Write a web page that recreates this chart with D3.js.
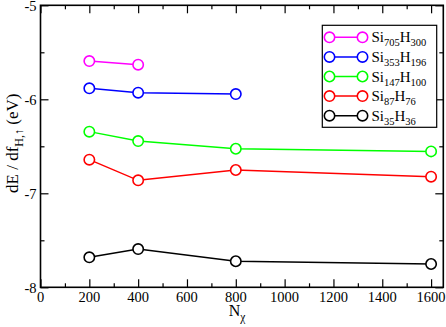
<!DOCTYPE html>
<html><head><meta charset="utf-8">
<script src="https://cdn.jsdelivr.net/npm/d3@7/dist/d3.min.js"></script>
<style>body{margin:0;background:#fff}svg{display:block}text{font-family:"Liberation Serif","DejaVu Serif",serif}</style>
</head><body>
<script>
const nchi = [200, 400, 800, 1600];
const si705h300 = [-5.593, -5.632];
const si353h196 = [-5.883, -5.930, -5.944];
const si147h100 = [-6.344, -6.444, -6.526, -6.554];
const si87h76 = [-6.642, -6.862, -6.752, -6.823];
const si35h36 = [-7.681, -7.593, -7.723, -7.752];
const seriesNames = [["Si","705","H","300"],["Si","353","H","196"],["Si","147","H","100"],["Si","87","H","76"],["Si","35","H","36"]];
const seriesColors = ["#ff00ff","#0000ff","#00ff00","#ff0000","#000000"];
const seriesValues = [si705h300, si353h196, si147h100, si87h76, si35h36];
const xTicks = [0,200,400,600,800,1000,1200,1400,1600];
const yTicks = [-8,-7,-6,-5];

const W=446,H=327, L=40.5, R=443.3, T=5.3, B=287.3;
const svg = d3.select("body").append("svg").attr("width",W).attr("height",H);
const x = d3.scaleLinear().domain([0,1650]).range([L,R]);
const y = d3.scaleLinear().domain([-8,-5]).range([B,T]);

const g = svg.append("g");
const xMinor = d3.range(100,1650,200);
const yMinor = [-7.5,-6.5,-5.5];
function axes(){
  const ax = g.append("g");
  ax.append("g").attr("transform",`translate(0,${B})`).call(d3.axisBottom(x).tickValues(xTicks).tickSize(-8).tickFormat(""));
  ax.append("g").attr("transform",`translate(0,${B})`).call(d3.axisBottom(x).tickValues(xMinor).tickSize(-4).tickFormat(""));
  ax.append("g").attr("transform",`translate(0,${T})`).call(d3.axisTop(x).tickValues(xTicks).tickSize(-8).tickFormat(""));
  ax.append("g").attr("transform",`translate(0,${T})`).call(d3.axisTop(x).tickValues(xMinor).tickSize(-4).tickFormat(""));
  ax.append("g").attr("transform",`translate(${L},0)`).call(d3.axisLeft(y).tickValues(yTicks).tickSize(-8).tickFormat(""));
  ax.append("g").attr("transform",`translate(${L},0)`).call(d3.axisLeft(y).tickValues(yMinor).tickSize(-4).tickFormat(""));
  ax.append("g").attr("transform",`translate(${R},0)`).call(d3.axisRight(y).tickValues(yTicks).tickSize(-8).tickFormat(""));
  ax.append("g").attr("transform",`translate(${R},0)`).call(d3.axisRight(y).tickValues(yMinor).tickSize(-4).tickFormat(""));
  ax.selectAll(".domain").remove();
  ax.selectAll("line").attr("stroke","#000").attr("stroke-width",1.2);
  g.append("rect").attr("x",L).attr("y",T).attr("width",R-L).attr("height",B-T).attr("fill","none").attr("stroke","#000").attr("stroke-width",1.6);
  g.selectAll(".xl").data(xTicks).enter().append("text").attr("x",d=>x(d)).attr("y",302).attr("text-anchor","middle").attr("font-size",14.5).text(d=>d);
  g.selectAll(".yl").data(yTicks).enter().append("text").attr("x",36.5).attr("y",d=>y(d)+5.3).attr("text-anchor","end").attr("font-size",14.5).text(d=>d);
}
axes();

const line = d3.line().x(d=>x(d[0])).y(d=>y(d[1]));
seriesValues.forEach((vals,i)=>{
  const pts = vals.map((v,j)=>[nchi[j],v]);
  g.append("path").attr("d",line(pts)).attr("fill","none").attr("stroke",seriesColors[i]).attr("stroke-width",1.5);
  g.selectAll(null).data(pts).enter().append("circle").attr("cx",d=>x(d[0])).attr("cy",d=>y(d[1])).attr("r",5.2)
    .attr("fill","#fff").attr("stroke",seriesColors[i]).attr("stroke-width",1.6);
});

const lg = g.append("g");
lg.append("rect").attr("x",322.3).attr("y",25.3).attr("width",114.4).attr("height",102).attr("fill","#fff").attr("stroke","#000").attr("stroke-width",1.2);
seriesNames.forEach((n,i)=>{
  const yy = 37.3 + i*19.6;
  lg.append("line").attr("x1",329.5).attr("x2",362.5).attr("y1",yy).attr("y2",yy).attr("stroke",seriesColors[i]).attr("stroke-width",1.5);
  [329.5,362.5].forEach(cx=>lg.append("circle").attr("cx",cx).attr("cy",yy).attr("r",5.2).attr("fill","#fff").attr("stroke",seriesColors[i]).attr("stroke-width",1.6));
  const t = lg.append("text").attr("x",371.5).attr("y",yy+5).attr("font-size",15);
  t.append("tspan").text(n[0]);
  t.append("tspan").attr("dy",4).attr("font-size",10.5).text(n[1]);
  t.append("tspan").attr("dy",-4).text(n[2]);
  t.append("tspan").attr("dy",4).attr("font-size",10.5).text(n[3]);
});

const xt = g.append("text").attr("x",237).attr("y",316).attr("text-anchor","middle").attr("font-size",16);
xt.append("tspan").text("N");
xt.append("tspan").attr("dy",5).attr("font-size",11.5).text("χ");
const yt = g.append("text").attr("transform",`translate(18,${(T+B)/2 - 3}) rotate(-90)`).attr("text-anchor","middle").attr("font-size",17);
yt.append("tspan").text("dE / df");
yt.append("tspan").attr("dy",5).attr("font-size",12).text("H,↑");
yt.append("tspan").attr("dy",-5).text(" (eV)");
</script>
</body></html>
